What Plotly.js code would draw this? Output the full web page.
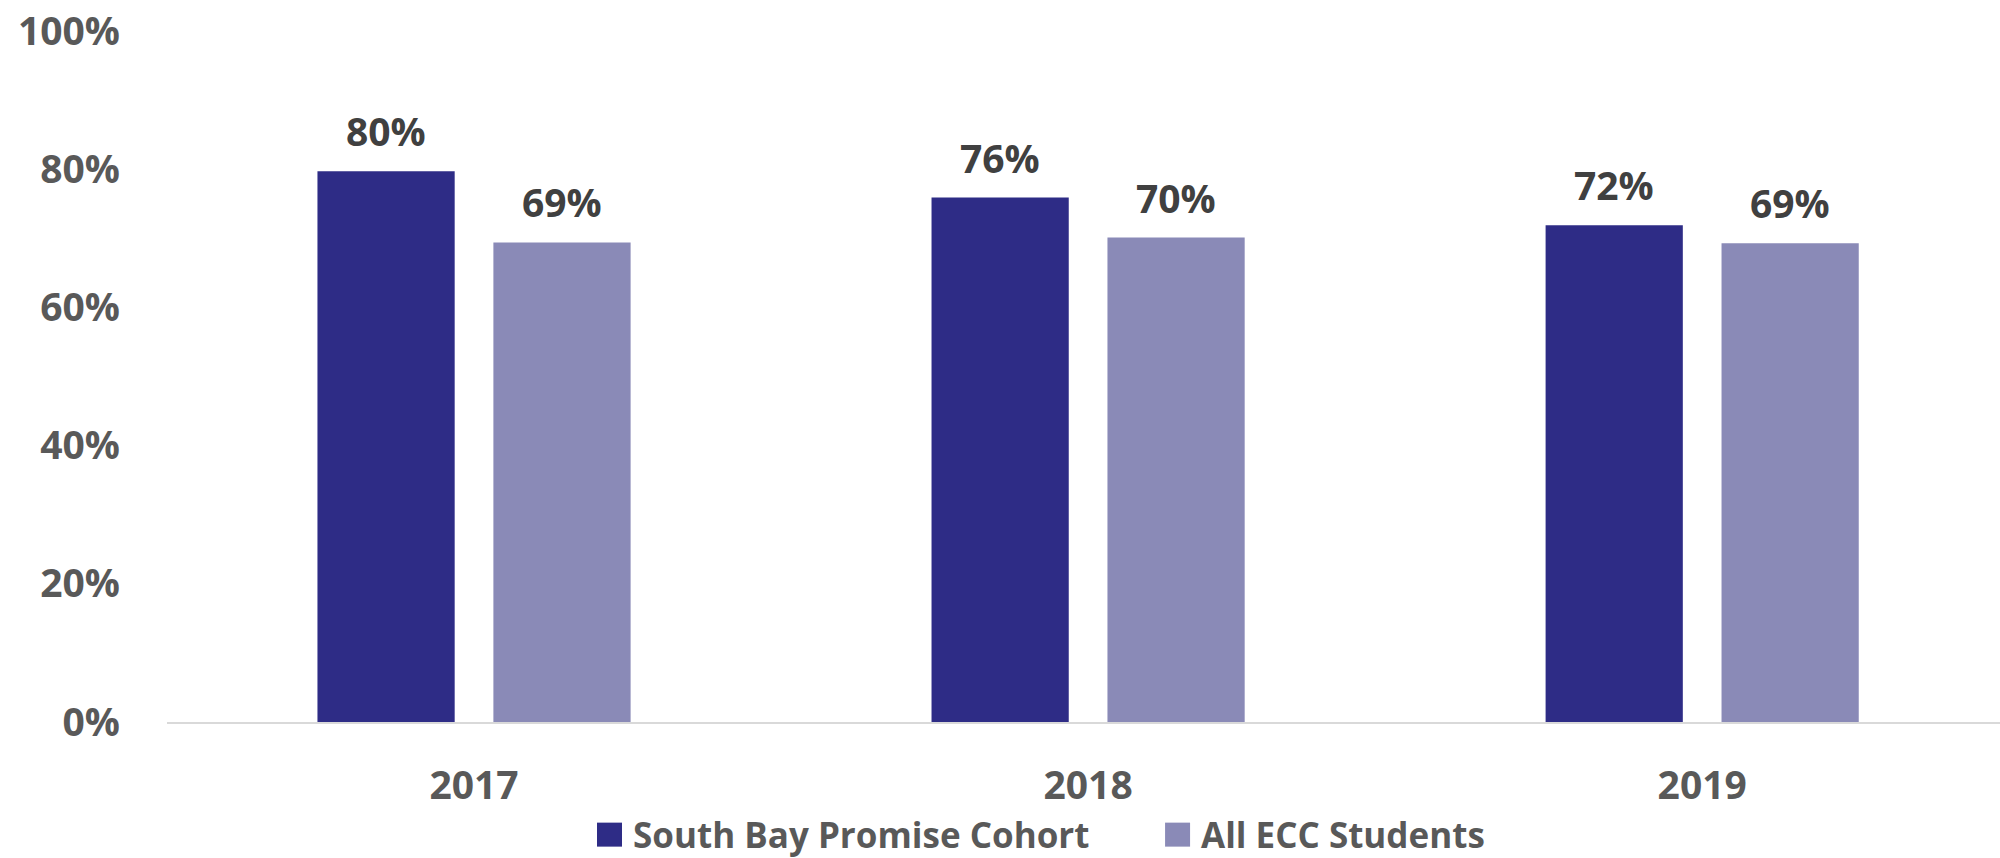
<!DOCTYPE html>
<html>
<head>
<meta charset="utf-8">
<script src="https://cdn.plot.ly/plotly-3.0.1.min.js"></script>
<style>
  html, body { margin: 0; padding: 0; background: #fff; }
  #chart { width: 2000px; height: 858px; }
</style>
</head>
<body>
<div id="chart"></div>
<script>
// ---- data ----
const years = ['2017', '2018', '2019'];
const seriesNames = ['South Bay Promise Cohort', 'All ECC Students'];
const cohortValues = [0.797, 0.759, 0.719];
const eccValues = [0.694, 0.701, 0.693];
const yTickValues = [0, 0.2, 0.4, 0.6, 0.8, 1.0];
const yTickLabels = ['0%', '20%', '40%', '60%', '80%', '100%'];

// ---- style ----
const colors = ['#2E2C86', '#8A8AB7'];
const FONT = '"Open Sans", "Liberation Sans", sans-serif';
const labelColor = '#404040';
const axisTextColor = '#595959';

const allValues = [cohortValues, eccValues];

const traces = allValues.map((vals, i) => ({
  type: 'bar',
  name: seriesNames[i],
  x: years,
  y: vals,
  marker: { color: colors[i], line: { width: 0 } },
  hoverinfo: 'skip'
}));

const annotations = [];
allValues.forEach((vals, i) => {
  vals.forEach((v, j) => {
    annotations.push({
      x: j, y: v, xref: 'x', yref: 'y',
      xshift: i === 0 ? -88 : 88,
      yshift: 12,
      yanchor: 'bottom',
      showarrow: false,
      text: Math.round(v * 100) + '%',
      font: { family: FONT, size: 39, color: labelColor, weight: 'bold' }
    });
  });
});

// custom legend
const legendY = -0.163;
const legendX = [0.2346, 0.5445];
const shapes = [];
seriesNames.forEach((name, i) => {
  shapes.push({
    type: 'rect', xref: 'paper', yref: 'paper',
    xsizemode: 'pixel', ysizemode: 'pixel',
    xanchor: legendX[i], yanchor: legendY,
    x0: 0, x1: 25, y0: -12, y1: 12,
    fillcolor: colors[i], line: { width: 0 }
  });
  annotations.push({
    xref: 'paper', yref: 'paper',
    x: legendX[i], y: legendY,
    xshift: 35,
    xanchor: 'left', yanchor: 'middle',
    borderpad: 0,
    showarrow: false,
    text: name,
    font: { family: FONT, size: 35, color: axisTextColor, weight: 'bold' }
  });
});

const layout = {
  width: 2000,
  height: 858,
  margin: { l: 167, r: 0, t: 31, b: 136, pad: 0 },
  paper_bgcolor: '#ffffff',
  plot_bgcolor: '#ffffff',
  showlegend: false,
  bargap: 0.427,
  bargroupgap: 0.22,
  barmode: 'group',
  xaxis: {
    type: 'category',
    range: [-0.5, 2.485],
    showgrid: false,
    zeroline: false,
    showline: true,
    linecolor: '#d9d9d9',
    linewidth: 2,
    ticks: '',
    ticklabelstandoff: 28,
    tickfont: { family: FONT, size: 39, color: axisTextColor, weight: 'bold' }
  },
  yaxis: {
    range: [0, 1],
    tickvals: yTickValues,
    ticktext: yTickLabels,
    showgrid: false,
    zeroline: false,
    showline: false,
    ticks: '',
    ticklabelstandoff: 46,
    tickfont: { family: FONT, size: 39, color: axisTextColor, weight: 'bold' }
  },
  annotations: annotations,
  shapes: shapes
};

Plotly.newPlot('chart', traces, layout, { staticPlot: true, displayModeBar: false });
</script>
</body>
</html>
